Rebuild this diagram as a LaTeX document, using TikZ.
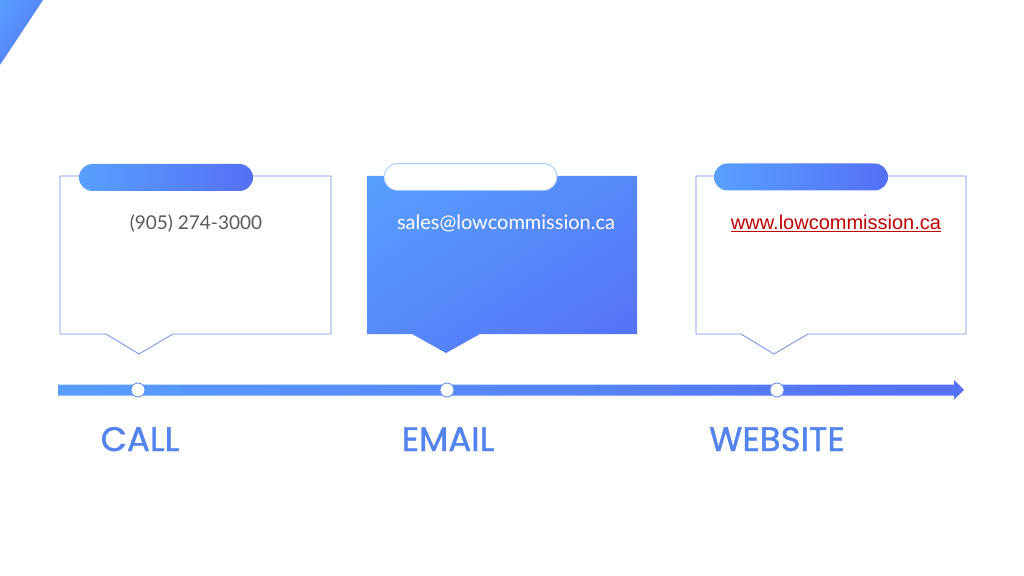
\documentclass[tikz,border=0pt]{standalone}
\usepackage{fontspec}
\setmainfont{Lato}
\newfontfamily\headfont[FakeBold=1.2]{Poppins}
\newfontfamily\linkfont{Liberation Sans}
\usetikzlibrary{shapes.misc, shadings, arrows.meta, positioning, calc}

\definecolor{skyblue}{HTML}{58A0FF}
\definecolor{deepblue}{HTML}{5570F5}
\definecolor{midblue}{HTML}{5688FA}
\definecolor{edgeblue}{HTML}{6F8FEA}
\definecolor{labelblue}{HTML}{5283EE}
\definecolor{linkred}{HTML}{C00000}
\definecolor{textgray}{HTML}{5A5A5A}

\begin{document}
\begin{tikzpicture}[
  x=1bp, y=-1bp,
  pill/.style={rounded rectangle, minimum width=174bp, minimum height=27bp, inner sep=0pt,
    left color=skyblue, right color=deepblue, draw=none},
  whitepill/.style={rounded rectangle, minimum width=173bp, minimum height=27bp, inner sep=0pt,
    fill=white, draw=skyblue!60, line width=0.8bp},
  callout/.style={draw=edgeblue, line width=0.8bp, fill=white},
  dot/.style={draw=midblue, fill=white, circle, minimum size=14bp, inner sep=0pt, line width=0.8bp},
  info/.style={font=\fontsize{19bp}{22bp}\selectfont, text=textgray, inner sep=0pt, anchor=base},
  head/.style={font=\headfont\fontsize{34bp}{38bp}\selectfont, text=labelblue, inner sep=0pt, anchor=base}
]
\useasboundingbox (0,0) rectangle (1024,576);
\fill[white] (0,0) rectangle (1024,576);

% corner accent
\shade[upper left=skyblue, lower right=deepblue, upper right=midblue, lower left=midblue]
  (0,0) -- (43,0) -- (0,65) -- cycle;

% callouts
\draw[callout] (60,176) -- (331,176) -- (331,334) -- (173,334) -- (139,354)
  -- (106,334) -- (60,334) -- cycle;
\shade[upper left=skyblue, lower right=deepblue, upper right=midblue, lower left=midblue]
  (367,176) -- (637,176) -- (637,334) -- (480,334) -- (446,353)
  -- (412,334) -- (367,334) -- cycle;
\draw[callout] (696,176) -- (966,176) -- (966,334) -- (808,334) -- (774,354)
  -- (741,334) -- (696,334) -- cycle;

% pills
\node[pill] (CallPill) at (166,177.5) {};
\node[whitepill] (MailPill) at (470.5,177) {};
\node[pill] (WebPill) at (801,177) {};

% texts
\node[info] (CallText) at (196,229.5) {(905) 274-3000};
\node[info, text=white, font=\fontsize{20bp}{22bp}\selectfont] (MailText) at (506,229.5) {sales@lowcommission.ca};
\node[info, font=\linkfont\fontsize{20bp}{22bp}\selectfont, text=linkred] (WebText) at (836,229.5)
  {\underline{www.lowcommission.ca}};

% timeline
\coordinate (LineStart) at (58,390);
\coordinate (LineEnd) at (964,390);
\shade[left color=skyblue!95!deepblue, right color=deepblue]
  ($(LineStart)+(0,-5.5)$) -- ($(LineEnd)+(-10,-5.5)$) -- ($(LineEnd)+(-10,-10)$)
  -- (LineEnd) -- ($(LineEnd)+(-10,9.5)$) -- ($(LineEnd)+(-10,5.5)$)
  -- ($(LineStart)+(0,5.5)$) -- cycle;

\node[dot] (CallDot) at (138,390) {};
\node[dot] (MailDot) at (447,390) {};
\node[dot] (WebDot) at (777,390) {};

% labels
\node[head] (CallLabel) at (140,451) {CALL};
\node[head] (MailLabel) at (448,451) {EMAIL};
\node[head] (WebLabel) at (777,451) {WEBSITE};

\end{tikzpicture}
\end{document}
